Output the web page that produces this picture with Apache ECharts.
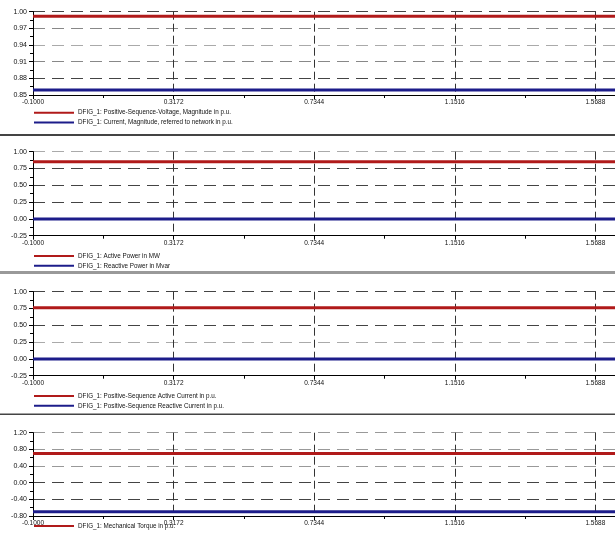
<!DOCTYPE html>
<html>
<head>
<meta charset="utf-8">
<script src="https://cdn.jsdelivr.net/npm/echarts@6/dist/echarts.min.js"></script>
<style>
  html, body { margin: 0; padding: 0; background: #fff; }
  #chart { width: 615px; height: 544px; }
</style>
</head>
<body>
<div id="chart"></div>
<script>
// x axis (time in s)
const xRange = [-0.1, 1.627];
const xStep = 0.4172;

// one entry per panel
const seriesNames = [
  ['DFIG_1: Positive-Sequence-Voltage, Magnitude in p.u.', 'DFIG_1: Current, Magnitude, referred to network in p.u.'],
  ['DFIG_1: Active Power in MW', 'DFIG_1: Reactive Power in Mvar'],
  ['DFIG_1: Positive-Sequence Active Current in p.u.', 'DFIG_1: Positive-Sequence Reactive Current in p.u.'],
  ['DFIG_1: Mechanical Torque in p.u.', 'DFIG_1: Electrical Torque in p.u.']
];
const redValues = [0.992, 0.85, 0.76, 0.70];
const blueValues = [0.859, 0.0, 0.0, -0.70];
const yMins = [0.85, -0.25, -0.25, -0.80];
const yMaxs = [1.00, 1.00, 1.00, 1.20];
const ySteps = [0.03, 0.25, 0.25, 0.40];
const legendCounts = [2, 2, 2, 1];

// layout
const gridTops = [11.7, 151.7, 291.7, 432.7];
const gridHeights = [83.3, 84, 84, 83.3];
const legendTops = [109.5, 252.7, 392.7, 522.7];
const gridColors = [
  ['#444', '#444', '#888', '#aaa', '#888', '#444'],
  ['#444', '#444', '#444', '#444', '#444', '#aaa'],
  ['#444', '#444', '#aaa', '#444', '#444', '#444'],
  ['#444', '#444', '#444', '#999', '#999', '#999']
];

const RED = '#b01a1a';
const BLUE = '#1c1c8a';
const FONT = 'Liberation Sans, Arial, sans-serif';

const chart = echarts.init(document.getElementById('chart'));

let grids = [], xAxes = [], yAxes = [], series = [], legends = [];

for (let i = 0; i < 4; i++) {
  grids.push({ left: 33, right: 0, top: gridTops[i], height: gridHeights[i] });

  xAxes.push({
    type: 'value',
    gridIndex: i,
    min: 0,
    max: xRange[1] - xRange[0],
    interval: xStep,
    axisLine: { show: true, onZero: false, lineStyle: { color: '#000', width: 1 } },
    axisTick: { show: true, length: 4, lineStyle: { color: '#000' } },
    minorTick: { show: true, splitNumber: 2, length: 3, lineStyle: { color: '#000' } },
    axisLabel: {
      margin: 4, fontSize: 6.5, color: '#111', fontFamily: FONT,
      showMaxLabel: false,
      formatter: v => (v + xRange[0]).toFixed(4)
    },
    splitLine: { show: true, lineStyle: { color: '#333', type: [8, 4], width: 1 } }
  });

  yAxes.push({
    type: 'value',
    gridIndex: i,
    min: 0,
    max: yMaxs[i] - yMins[i],
    interval: ySteps[i],
    axisLine: { show: true, onZero: false, lineStyle: { color: '#000', width: 1 } },
    axisTick: { show: true, length: 4, lineStyle: { color: '#000' } },
    minorTick: { show: true, splitNumber: 2, length: 3, lineStyle: { color: '#000' } },
    axisLabel: {
      margin: 6, fontSize: 7, color: '#111', fontFamily: FONT,
      formatter: v => (v + yMins[i]).toFixed(2)
    },
    splitLine: { show: true, lineStyle: { color: gridColors[i], type: [12, 7], width: 1 } }
  });

  const mk = (name, value, color) => ({
    name: name,
    type: 'line',
    xAxisIndex: i,
    yAxisIndex: i,
    symbol: 'none',
    silent: true,
    z: 5,
    lineStyle: { color: color, width: 3 },
    itemStyle: { color: color },
    data: [[0, value - yMins[i]], [xRange[1] - xRange[0], value - yMins[i]]]
  });
  series.push(mk(seriesNames[i][0], redValues[i], RED));
  series.push(mk(seriesNames[i][1], blueValues[i], BLUE));

  legends.push({
    data: seriesNames[i].slice(0, legendCounts[i]),
    orient: 'vertical',
    left: 33,
    top: legendTops[i],
    itemWidth: 40,
    itemHeight: 8,
    itemGap: 3.5,
    padding: 0,
    selectedMode: false,
    itemStyle: { opacity: 0 },
    lineStyle: { width: 2 },
    textStyle: { fontSize: 6.3, color: '#111', fontFamily: FONT, padding: [0, 0, 0, -1] }
  });
}

chart.setOption({
  animation: false,
  backgroundColor: '#fff',
  grid: grids,
  xAxis: xAxes,
  yAxis: yAxes,
  legend: legends,
  series: series,
  graphic: [
    { type: 'rect', shape: { x: 0, y: 134, width: 615, height: 2 }, style: { fill: '#444' } },
    { type: 'rect', shape: { x: 0, y: 271, width: 615, height: 3 }, style: { fill: '#999' } },
    { type: 'rect', shape: { x: 0, y: 413.5, width: 615, height: 1.5 }, style: { fill: '#444' } }
  ]
});
</script>
</body>
</html>
